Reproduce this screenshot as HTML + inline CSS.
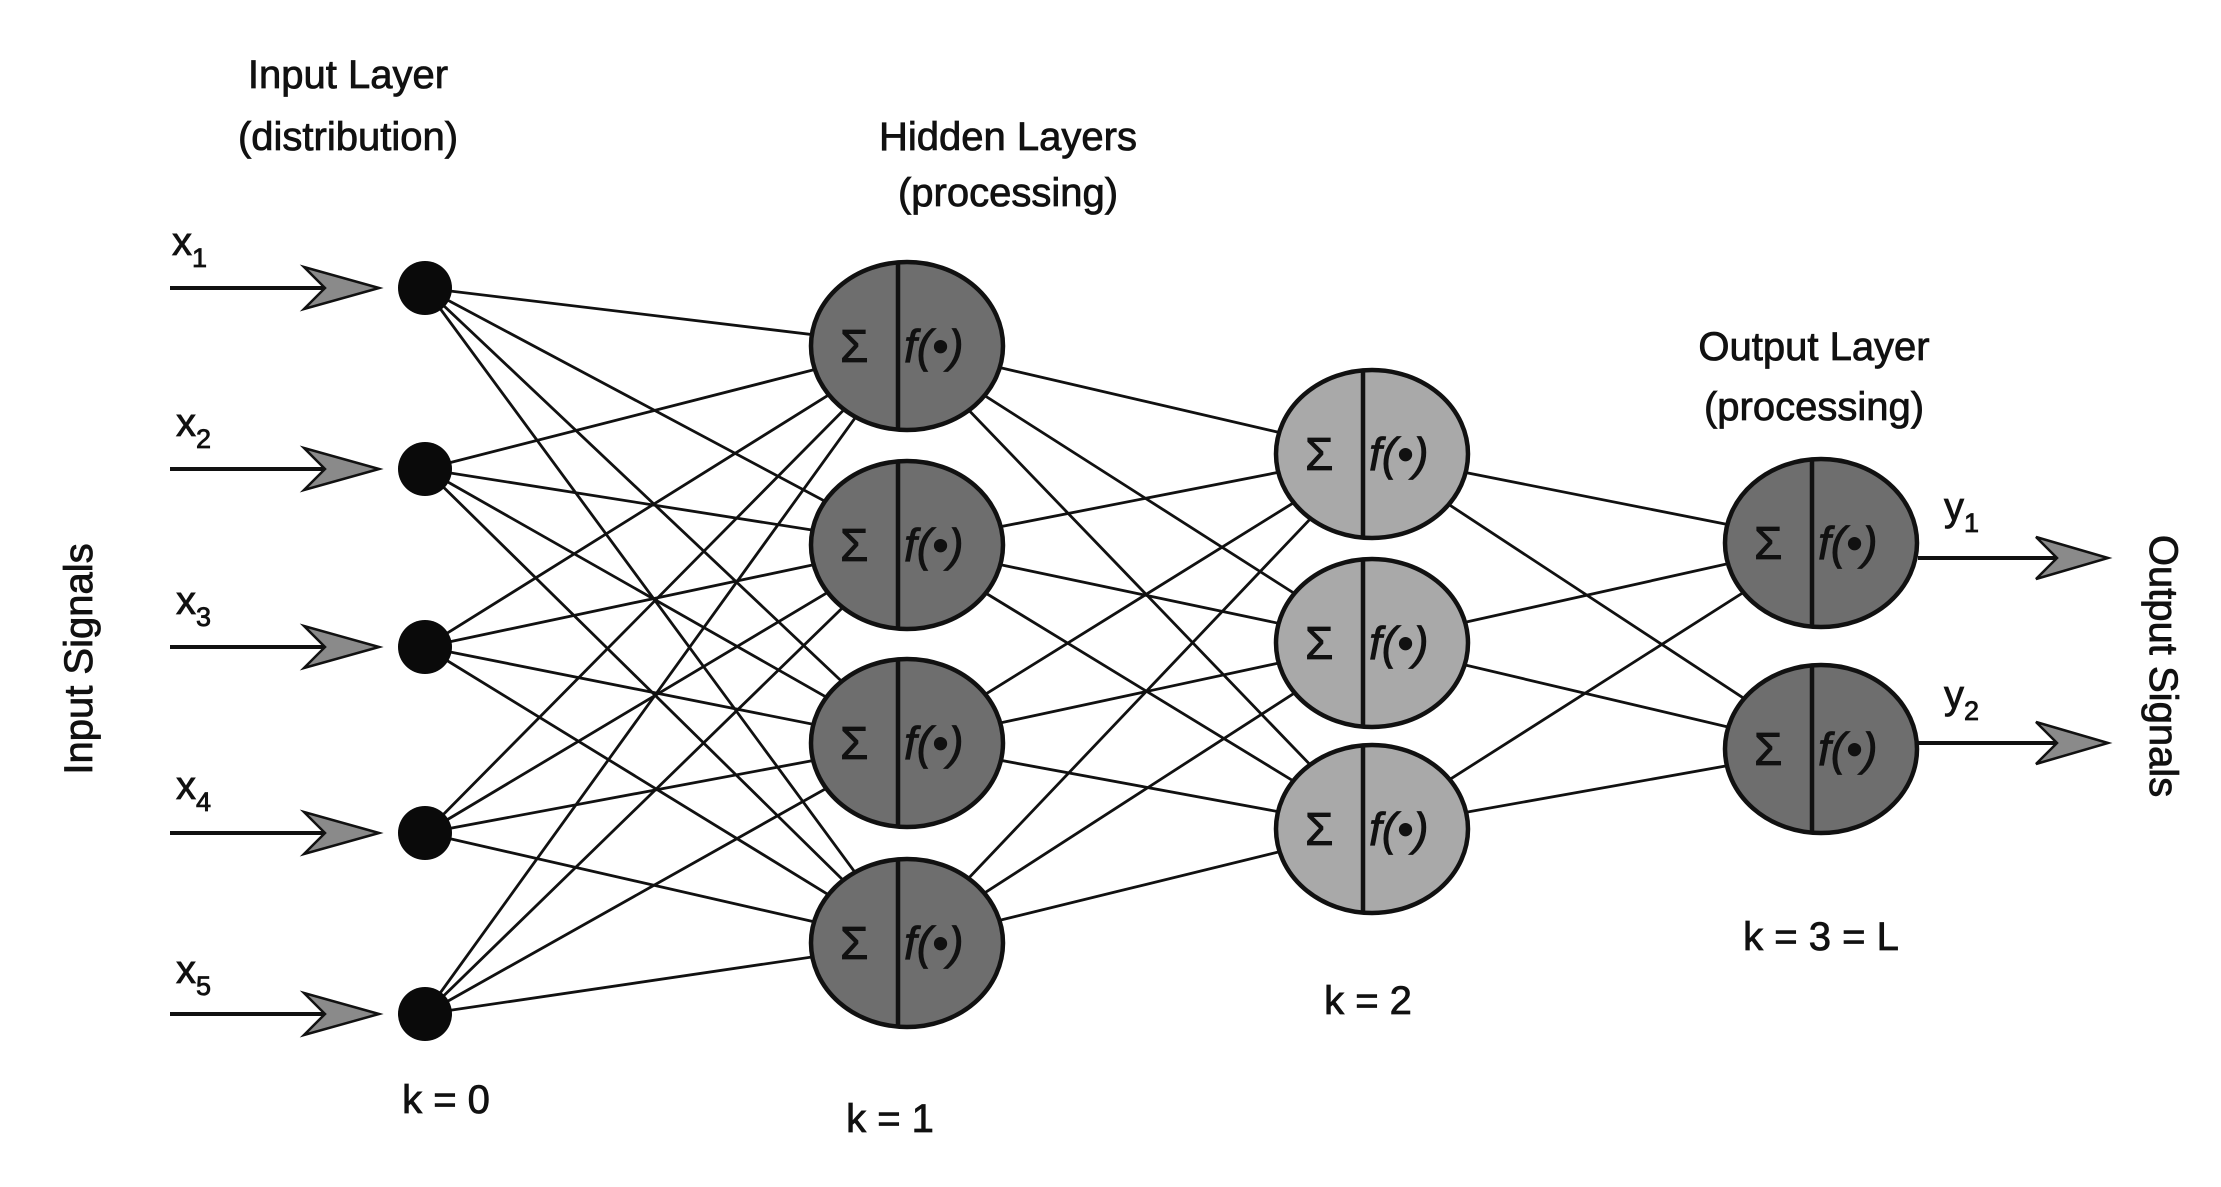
<!DOCTYPE html>
<html><head><meta charset="utf-8"><style>
html,body{margin:0;padding:0;background:#fff;}
svg{display:block;}
text{font-family:"Liberation Sans",Arial,sans-serif;fill:#111;stroke:#111;stroke-width:0.8;}
</style></head><body>
<svg width="2221" height="1187" viewBox="0 0 2221 1187" xmlns="http://www.w3.org/2000/svg">
<g stroke="#111" stroke-width="2.8">
<g id="e1"></g>
</g>
<script>
(function(){
var ns="http://www.w3.org/2000/svg";
var g=document.getElementById("e1");
var inp=[288,469,647,833,1014], h1=[346,545,743,943], h2=[454,643,829], out=[543,749];
function L(x1,y1,x2,y2){var l=document.createElementNS(ns,"line");l.setAttribute("x1",x1);l.setAttribute("y1",y1);l.setAttribute("x2",x2);l.setAttribute("y2",y2);g.appendChild(l);}
inp.forEach(function(a){h1.forEach(function(b){L(425,a,907,b);});});
h1.forEach(function(a){h2.forEach(function(b){L(907,a,1372,b);});});
h2.forEach(function(a){out.forEach(function(b){L(1372,a,1821,b);});});
})();
</script>

<g stroke="#111" stroke-width="4" fill="#8a8a8a">
<line x1="170" y1="288" x2="360" y2="288"/><polygon stroke-width="2.5" points="379,288 304,267 325,288 304,309"/>
<line x1="170" y1="469" x2="360" y2="469"/><polygon stroke-width="2.5" points="379,469 304,448 325,469 304,490"/>
<line x1="170" y1="647" x2="360" y2="647"/><polygon stroke-width="2.5" points="379,647 304,626 325,647 304,668"/>
<line x1="170" y1="833" x2="360" y2="833"/><polygon stroke-width="2.5" points="379,833 304,812 325,833 304,854"/>
<line x1="170" y1="1014" x2="360" y2="1014"/><polygon stroke-width="2.5" points="379,1014 304,993 325,1014 304,1035"/>
<line x1="1918" y1="558" x2="2090" y2="558"/><polygon stroke-width="2.5" points="2108,558 2036,537 2057,558 2036,579"/>
<line x1="1918" y1="743" x2="2090" y2="743"/><polygon stroke-width="2.5" points="2108,743 2036,722 2057,743 2036,764"/>
</g>

<g fill="#0a0a0a">
<circle cx="425" cy="288" r="27"/><circle cx="425" cy="469" r="27"/><circle cx="425" cy="647" r="27"/><circle cx="425" cy="833" r="27"/><circle cx="425" cy="1014" r="27"/>
</g>

<g stroke="#111" stroke-width="4.5">
<g fill="#6e6e6e">
<ellipse cx="907" cy="346" rx="96" ry="84"/><ellipse cx="907" cy="545" rx="96" ry="84"/><ellipse cx="907" cy="743" rx="96" ry="84"/><ellipse cx="907" cy="943" rx="96" ry="84"/>
<ellipse cx="1821" cy="543" rx="96" ry="84"/><ellipse cx="1821" cy="749" rx="96" ry="84"/>
</g>
<g fill="#a9a9a9">
<ellipse cx="1372" cy="454" rx="96" ry="84"/><ellipse cx="1372" cy="643" rx="96" ry="84"/><ellipse cx="1372" cy="829" rx="96" ry="84"/>
</g>
<line x1="898" y1="262" x2="898" y2="430"/><line x1="898" y1="461" x2="898" y2="629"/><line x1="898" y1="659" x2="898" y2="827"/><line x1="898" y1="859" x2="898" y2="1027"/>
<line x1="1363" y1="370" x2="1363" y2="538"/><line x1="1363" y1="559" x2="1363" y2="727"/><line x1="1363" y1="745" x2="1363" y2="913"/>
<line x1="1812" y1="459" x2="1812" y2="627"/><line x1="1812" y1="665" x2="1812" y2="833"/>
</g>
<g font-size="46">
<text x="840" y="362">Σ</text><text x="904" y="362" font-style="italic">f(•)</text>
<text x="840" y="561">Σ</text><text x="904" y="561" font-style="italic">f(•)</text>
<text x="840" y="759">Σ</text><text x="904" y="759" font-style="italic">f(•)</text>
<text x="840" y="959">Σ</text><text x="904" y="959" font-style="italic">f(•)</text>
<text x="1305" y="470">Σ</text><text x="1369" y="470" font-style="italic">f(•)</text>
<text x="1305" y="659">Σ</text><text x="1369" y="659" font-style="italic">f(•)</text>
<text x="1305" y="845">Σ</text><text x="1369" y="845" font-style="italic">f(•)</text>
<text x="1754" y="559">Σ</text><text x="1818" y="559" font-style="italic">f(•)</text>
<text x="1754" y="765">Σ</text><text x="1818" y="765" font-style="italic">f(•)</text>
</g>

<g font-size="40" text-anchor="middle">
<text x="348" y="88">Input Layer</text>
<text x="348" y="150">(distribution)</text>
<text x="1008" y="150">Hidden Layers</text>
<text x="1008" y="206">(processing)</text>
<text x="1814" y="360">Output Layer</text>
<text x="1814" y="420">(processing)</text>
<text x="446" y="1113">k = 0</text>
<text x="890" y="1132">k = 1</text>
<text x="1368" y="1014">k = 2</text>
<text x="1821" y="950">k = 3 = L</text>
<text transform="translate(92,659) rotate(-90)">Input Signals</text>
<text transform="translate(2150,666) rotate(90)">Output Signals</text>
</g>
<g font-size="40">
<text x="172" y="255">x<tspan font-size="27" dy="12">1</tspan></text>
<text x="176" y="436">x<tspan font-size="27" dy="12">2</tspan></text>
<text x="176" y="614">x<tspan font-size="27" dy="12">3</tspan></text>
<text x="176" y="799">x<tspan font-size="27" dy="12">4</tspan></text>
<text x="176" y="983">x<tspan font-size="27" dy="12">5</tspan></text>
<text x="1944" y="520">y<tspan font-size="27" dy="12">1</tspan></text>
<text x="1944" y="708">y<tspan font-size="27" dy="12">2</tspan></text>
</g>
</svg>
</body></html>
